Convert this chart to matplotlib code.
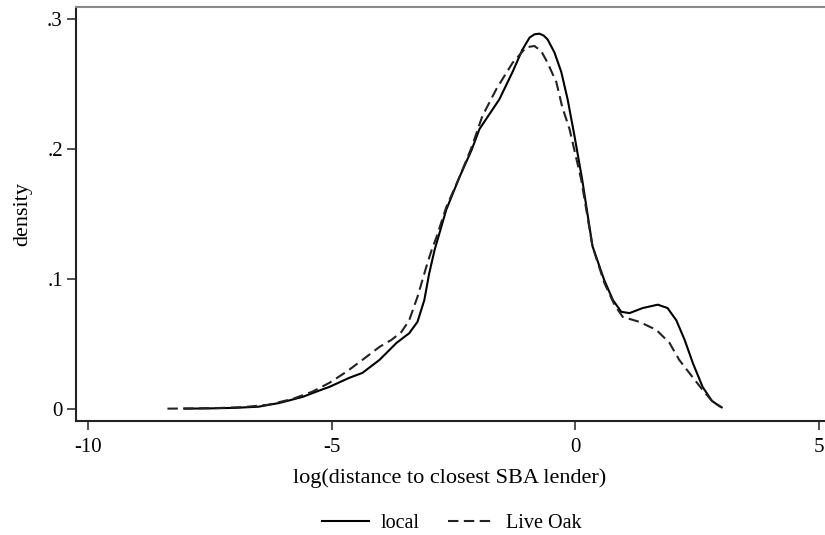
import matplotlib
matplotlib.use("Agg")
import matplotlib.pyplot as plt

# Data (kernel density estimates)
local_x = [-8.02, -7.5, -7.0, -6.5, -6.07, -5.6, -5.25, -5.05, -4.64, -4.37, -4.02, -3.67, -3.41,
           -3.24, -3.10, -3.0, -2.89, -2.65, -2.38, -2.13, -1.97, -1.56, -1.29, -1.09, -0.94,
           -0.84, -0.74, -0.65, -0.57, -0.43, -0.29, -0.16, -0.02, 0.14, 0.35, 0.59, 0.77, 0.94,
           1.11, 1.38, 1.69, 1.89, 2.07, 2.24, 2.41, 2.61, 2.80, 2.95, 3.0]
local_y = [0.0, 0.0002, 0.0006, 0.0015, 0.0044, 0.009, 0.014, 0.0167, 0.0237, 0.0275, 0.0375, 0.0506, 0.058,
           0.0668, 0.0835, 0.104, 0.122, 0.153, 0.178, 0.199, 0.215, 0.238, 0.259, 0.276, 0.2855,
           0.288, 0.2885, 0.287, 0.284, 0.274, 0.259, 0.238, 0.210, 0.176, 0.125, 0.099, 0.0835, 0.0745,
           0.0735, 0.0774, 0.080, 0.0774, 0.068, 0.053, 0.035, 0.0167, 0.006, 0.002, 0.001]

oak_x = [-8.37, -7.8, -7.3, -6.8, -6.3, -5.8, -5.4, -5.05, -4.70, -4.37, -4.02, -3.77, -3.57,
         -3.41, -3.24, -3.06, -2.95, -2.85, -2.65, -2.38, -2.13, -1.91, -1.62, -1.29, -1.01,
         -0.84, -0.70, -0.57, -0.39, -0.27, -0.12, 0.12, 0.35, 0.59, 0.80, 0.97, 1.31, 1.66,
         1.93, 2.13, 2.40, 2.61, 2.80, 3.0]
oak_y = [0.0, 0.0002, 0.0005, 0.0012, 0.0030, 0.0075, 0.013, 0.0198, 0.0283, 0.0375, 0.0475, 0.053, 0.059,
         0.068, 0.086, 0.109, 0.122, 0.132, 0.155, 0.178, 0.201, 0.225, 0.246, 0.266, 0.278,
         0.279, 0.275, 0.266, 0.251, 0.232, 0.215, 0.176, 0.125, 0.097, 0.080, 0.0706, 0.0668, 0.0606,
         0.0506, 0.0375, 0.0244, 0.0144, 0.006, 0.001]

x_ticks = [-10, -5, 0, 5]
x_tick_labels = ["-10", "-5", "0", "5"]
y_ticks = [0, 0.1, 0.2, 0.3]
y_tick_labels = ["0", ".1", ".2", ".3"]

plt.rcParams['font.family'] = ['Liberation Serif', 'DejaVu Serif']

fig = plt.figure(figsize=(8.25, 5.35), dpi=100)
ax = fig.add_axes([76/825, 1 - 421/535, (824 - 76)/825, (421 - 7)/535])

ax.plot(local_x, local_y, color='black', lw=1.5, solid_joinstyle='round', label='local')
ax.plot(oak_x, oak_y, color='#222222', lw=1.5, linestyle=(0, (5, 2.6)), label='Live Oak')

ax.set_xlim(-10.246, 5.10)
ax.set_ylim(-0.0095, 0.309)
ax.set_xticks(x_ticks)
ax.set_xticklabels(x_tick_labels)
ax.set_yticks(y_ticks)
ax.set_yticklabels(y_tick_labels)
ax.tick_params(direction='out', length=6.5, width=1.2, colors='#333333', labelcolor='black',
               labelsize=15)
ax.tick_params(axis='x', pad=6)
ax.tick_params(axis='y', pad=3)

for s in ['left', 'bottom']:
    ax.spines[s].set_linewidth(1.5)
    ax.spines[s].set_color('#222222')
ax.spines['top'].set_linewidth(1.5)
ax.spines['top'].set_color('#888888')
ax.spines['right'].set_visible(False)

ax.set_xlabel('log(distance to closest SBA lender)', fontsize=16, labelpad=8)
ax.set_ylabel('density', fontsize=16, labelpad=11)

leg = fig.legend(loc='center', bbox_to_anchor=(452/825, 1 - 523/535), ncol=2, frameon=False,
                 fontsize=14.5, handlelength=2.3, columnspacing=1.4, handletextpad=0.6)

fig.savefig('out.png', dpi=100)
